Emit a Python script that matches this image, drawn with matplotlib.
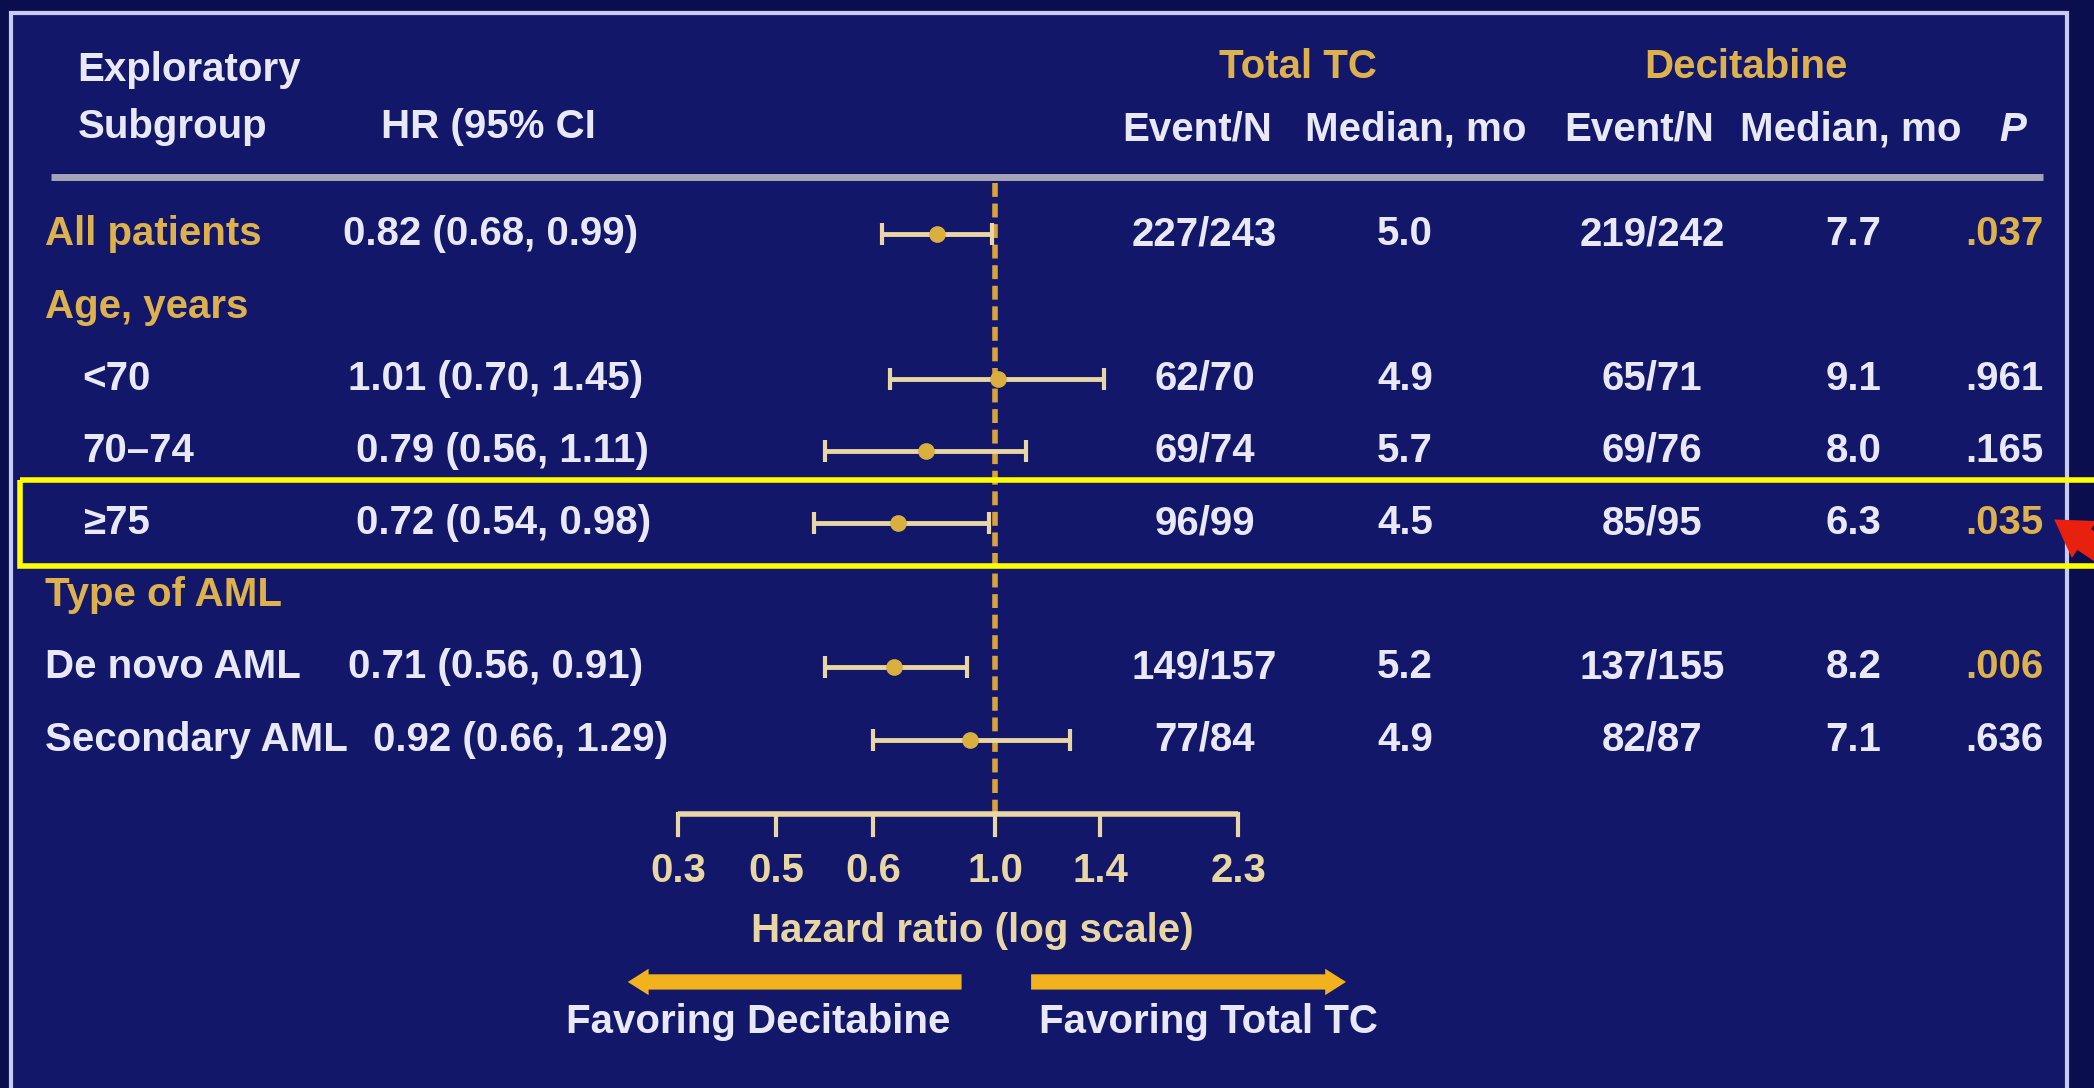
import numpy as np
import matplotlib
matplotlib.use("Agg")
import matplotlib.pyplot as plt
from matplotlib.patches import Rectangle
from matplotlib.transforms import blended_transform_factory

# data
subgroups = ["All patients", "Age, years", "<70", "70–74", "≥75",
             "Type of AML", "De novo AML", "Secondary AML"]
is_header = [False, True, False, False, False, True, False, False]
indent = [False, False, True, True, True, False, False, False]
gold_label = [True, True, False, False, False, True, False, False]
hr = [0.82, None, 1.01, 0.79, 0.72, None, 0.71, 0.92]
ci_lo = [0.68, None, 0.70, 0.56, 0.54, None, 0.56, 0.66]
ci_hi = [0.99, None, 1.45, 1.11, 0.98, None, 0.91, 1.29]
tc_events = ["227/243", "", "62/70", "69/74", "96/99", "", "149/157", "77/84"]
tc_median = ["5.0", "", "4.9", "5.7", "4.5", "", "5.2", "4.9"]
dec_events = ["219/242", "", "65/71", "69/76", "85/95", "", "137/155", "82/87"]
dec_median = ["7.7", "", "9.1", "8.0", "6.3", "", "8.2", "7.1"]
p_values = [".037", "", ".961", ".165", ".035", "", ".006", ".636"]
# where the slide puts its tick marks on the log axis, and what it prints there
tick_pos = [0.34, 0.475, 0.66, 1.0, 1.43, 2.29]
tick_labels = ["0.3", "0.5", "0.6", "1.0", "1.4", "2.3"]

NAVY = "#12176A"
OUTER = "#0A0E4E"
WHITE = "#E8E8F6"
GOLD = "#DDB24E"
CREAM = "#E8D6A4"
ORANGE = "#F2B21E"

plt.rcParams["font.family"] = ["Liberation Sans", "DejaVu Sans"]
plt.rcParams["font.weight"] = "bold"
FS = 29

fig = plt.figure(figsize=(20.94, 10.88), dpi=100, facecolor=OUTER)
fig.patches.append(Rectangle((0.0053, -0.02), 0.982, 1.008, transform=fig.transFigure,
                             facecolor=NAVY, edgecolor="#C8CCF0", lw=3, zorder=-1))

ax = fig.add_axes([0, 0, 1, 1])
ax.set_xscale("log")
ax.set_xlim(0.03382, 42.13)
ax.set_ylim(11.83, -3.25)
ax.axis("off")
tr = blended_transform_factory(ax.transAxes, ax.transData)

rows = np.arange(len(subgroups))

# header
ax.text(0.037, -2.28, "Exploratory", transform=tr, color=WHITE, fontsize=FS, va="center")
ax.text(0.037, -1.49, "Subgroup", transform=tr, color=WHITE, fontsize=FS, va="center")
ax.text(0.182, -1.49, "HR (95% CI", transform=tr, color=WHITE, fontsize=FS, va="center")
ax.text(0.620, -2.32, "Total TC", transform=tr, color=GOLD, fontsize=FS, va="center", ha="center")
ax.text(0.834, -2.32, "Decitabine", transform=tr, color=GOLD, fontsize=FS, va="center", ha="center")
for x, s in [(0.5715, "Event/N"), (0.676, "Median, mo"), (0.7826, "Event/N"), (0.884, "Median, mo")]:
    ax.text(x, -1.45, s, transform=tr, color=WHITE, fontsize=FS, va="center", ha="center")
ax.text(0.961, -1.45, "P", transform=tr, color=WHITE, fontsize=FS, va="center", ha="center",
        style="italic")
ax.plot([0.0242, 0.9758], [-0.80, -0.80], transform=tr, color="#A4A4B8", lw=5,
        solid_capstyle="butt")

# table rows
hr_x = [0.164, 0.166, 0.170, 0.170, 0.166, 0.178]
data_rows = [r for r in rows if not is_header[r]]
for i, y in enumerate(rows):
    x0 = 0.0395 if indent[i] else 0.0215
    ax.text(x0, y, subgroups[i], transform=tr, fontsize=FS, va="center",
            color=GOLD if gold_label[i] else WHITE)
    if is_header[i]:
        continue
    k = data_rows.index(i)
    ax.text(hr_x[k], y, f"{hr[i]:.2f} ({ci_lo[i]:.2f}, {ci_hi[i]:.2f})", transform=tr,
            fontsize=FS, va="center", color=WHITE)
    ax.text(0.5753, y, tc_events[i], transform=tr, fontsize=FS, va="center", ha="center", color=WHITE)
    ax.text(0.671, y, tc_median[i], transform=tr, fontsize=FS, va="center", ha="center", color=WHITE)
    ax.text(0.789, y, dec_events[i], transform=tr, fontsize=FS, va="center", ha="center", color=WHITE)
    ax.text(0.885, y, dec_median[i], transform=tr, fontsize=FS, va="center", ha="center", color=WHITE)
    sig = float(p_values[i]) < 0.05
    ax.text(0.957, y, p_values[i], transform=tr, fontsize=FS, va="center", ha="center",
            color=GOLD if sig else WHITE)

# forest marks
ax.plot([1.0, 1.0], [-0.71, 8.03], color="#D9A23A", lw=4, ls=(0, (2.5, 1.2)), zorder=2)
est = np.array([hr[r] for r in data_rows])
lo = np.array([ci_lo[r] for r in data_rows])
hi = np.array([ci_hi[r] for r in data_rows])
ax.errorbar(est, data_rows, xerr=[est - lo, hi - est], fmt="o", ms=11, color="#D9B040",
            ecolor=CREAM, elinewidth=3.5, capsize=8, capthick=3, zorder=3)

# hazard ratio axis
ax.plot([tick_pos[0], tick_pos[-1]], [8.03, 8.03], color=CREAM, lw=4, solid_capstyle="butt")
for t, lab in zip(tick_pos, tick_labels):
    ax.plot([t, t], [8.03, 8.32], color=CREAM, lw=3)
    ax.text(t, 8.82, lab, fontsize=FS, ha="center", va="center", color=CREAM)
ax.text(0.4643, 9.65, "Hazard ratio (log scale)", transform=tr, fontsize=FS,
        ha="center", va="center", color=CREAM)

# favoring arrows
arrow = dict(arrowstyle="simple,head_length=1.5,head_width=1.9,tail_width=1.1",
             color=ORANGE, lw=0, shrinkA=0, shrinkB=0, mutation_scale=10)
ax.annotate("", xy=(0.2998, 10.36), xytext=(0.4592, 10.36), xycoords=tr, textcoords=tr,
            arrowprops=arrow)
ax.annotate("", xy=(0.6428, 10.36), xytext=(0.4924, 10.36), xycoords=tr, textcoords=tr,
            arrowprops=arrow)
ax.text(0.3623, 10.91, "Favoring Decitabine", transform=tr, fontsize=FS, ha="center",
        va="center", color=WHITE)
ax.text(0.5772, 10.91, "Favoring Total TC", transform=tr, fontsize=FS, ha="center",
        va="center", color=WHITE)

# highlight box around the >=75 row and the pointer
ax.add_patch(Rectangle((0.0095, 4 - 0.6), 1.0, 1.2, transform=tr, fill=False,
                       edgecolor="#FFFF00", lw=4, zorder=5))
ax.annotate("", xy=(0.981, 3.95), xytext=(1.03, 4.9), xycoords=tr, textcoords=tr,
            arrowprops=dict(arrowstyle="simple,head_length=1.3,head_width=1.6,tail_width=0.9",
                            color="#E8200E", lw=0, shrinkA=0, shrinkB=0, mutation_scale=20),
            zorder=6)

fig.savefig("out.png", dpi=100, facecolor=fig.get_facecolor())
